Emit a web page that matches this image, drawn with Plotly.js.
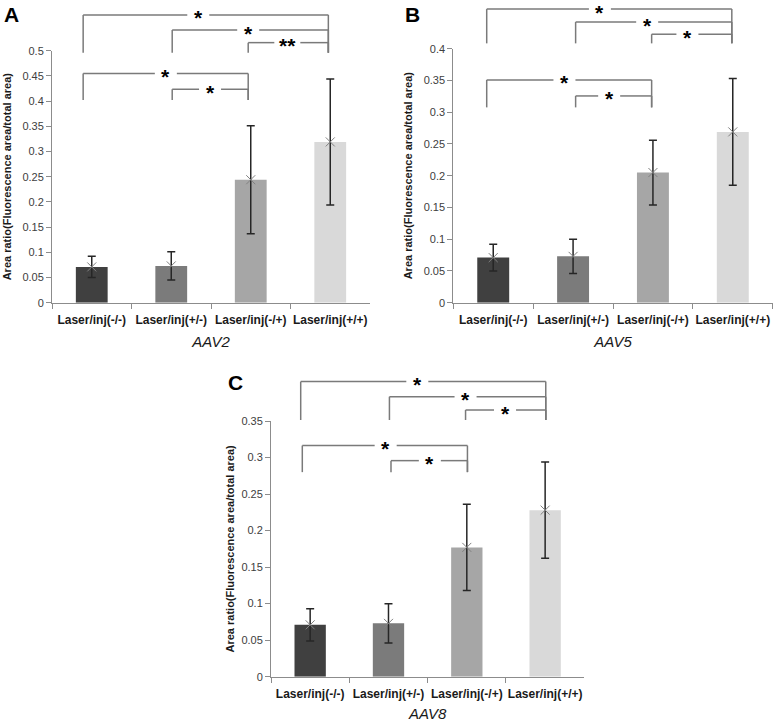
<!DOCTYPE html>
<html>
<head>
<meta charset="utf-8">
<script src="https://cdn.plot.ly/plotly-3.0.1.min.js"></script>
<style>html,body{margin:0;padding:0;background:#fff;}#chart{width:777px;height:722px;}</style>
</head>
<body>
<div id="chart"></div>
<script>
// ---- data ----
const categories = ["Laser/inj(-/-)", "Laser/inj(+/-)", "Laser/inj(-/+)", "Laser/inj(+/+)"];
const aav2Mean = [0.071, 0.073, 0.244, 0.319];
const aav2Err  = [0.021, 0.028, 0.107, 0.125];
const aav5Mean = [0.071, 0.073, 0.205, 0.269];
const aav5Err  = [0.021, 0.027, 0.051, 0.084];
const aav8Mean = [0.071, 0.073, 0.177, 0.228];
const aav8Err  = [0.022, 0.027, 0.059, 0.066];
const panelTitles = ["AAV2", "AAV5", "AAV8"];
const panelLetters = ["A", "B", "C"];
const yTitle = "Area ratio(Fluorescence area/total area)";
const sigA = ["*", "*", "**", "*", "*"];
const sigB = ["*", "*", "*", "*", "*"];
const sigC = ["*", "*", "*", "*", "*"];

// ---- styles / layout geometry ----
const W = 777, H = 722;
const FONT = 'Arial, "Liberation Sans", sans-serif';
const barColors = ["#404040", "#7b7b7b", "#a6a6a6", "#d9d9d9"];
const axisGray = "#8c8c8c";
const bracketGray = "#7a7a7a";

// plot boxes in pixels: [left, right, top, bottom]
const boxes = [
  [52, 370, 50.7, 302.7],
  [453.3, 772.7, 48.7, 302.7],
  [271, 584.3, 421, 676.7]
];
const yMax = [0.5, 0.4, 0.35];
const yTitleStandoff = [8, 8, 4];

// bracket geometry (domain fractions): [x0, x1, yLevel, yDrop, starX]
const bracketGeo = [
  [[0.098, 0.869, 1.142, 0.992, 0.460],
   [0.378, 0.869, 1.082, 0.992, 0.617],
   [0.617, 0.869, 1.032, 0.992, 0.740],
   [0.098, 0.617, 0.910, 0.804, 0.358],
   [0.378, 0.617, 0.847, 0.804, 0.497]],
  [[0.1046, 0.872, 1.156, 1.021, 0.459],
   [0.383, 0.872, 1.105, 1.021, 0.607],
   [0.621, 0.872, 1.057, 1.021, 0.733],
   [0.1046, 0.621, 0.877, 0.769, 0.348],
   [0.383, 0.621, 0.814, 0.769, 0.488]],
  [[0.0948, 0.877, 1.154, 1.004, 0.467],
   [0.378, 0.877, 1.095, 1.004, 0.621],
   [0.621, 0.877, 1.043, 1.004, 0.747],
   [0.0999, 0.627, 0.904, 0.800, 0.366],
   [0.383, 0.627, 0.845, 0.800, 0.507]]
];
const letterPos = [[2, 1], [403, 1], [226, 369]];

const means = [aav2Mean, aav5Mean, aav8Mean];
const errs = [aav2Err, aav5Err, aav8Err];
const sigs = [sigA, sigB, sigC];

const data = [];
const layout = {
  width: W, height: H, autosize: false,
  margin: {l: 0, r: 0, t: 0, b: 0},
  paper_bgcolor: "#fff", plot_bgcolor: "#fff",
  showlegend: false, bargap: 0.6,
  font: {family: FONT},
  shapes: [], annotations: []
};

for (let p = 0; p < 3; p++) {
  const sfx = p === 0 ? "" : String(p + 1);
  const xa = "x" + sfx, ya = "y" + sfx;
  const b = boxes[p];
  const pw = b[1] - b[0];
  data.push({
    type: "bar", x: categories, y: means[p], xaxis: xa, yaxis: ya,
    marker: {color: barColors, line: {width: 0}},
    error_y: {type: "data", array: errs[p], visible: true, color: "#262626", thickness: 1.5, width: 4},
    hoverinfo: "skip"
  });
  data.push({
    type: "scatter", mode: "markers", x: categories, y: means[p], xaxis: xa, yaxis: ya,
    marker: {symbol: "x-thin-open", size: 9, color: "#808080", line: {color: "#808080", width: 1}},
    hoverinfo: "skip", cliponaxis: false
  });
  layout["xaxis" + sfx] = {
    domain: [b[0] / W, b[1] / W], anchor: ya, type: "category", range: [-0.5, 3.5],
    showline: true, linecolor: axisGray, linewidth: 1, ticks: "outside", tickson: "boundaries",
    ticklen: 5, tickcolor: axisGray, showgrid: false, zeroline: false, tickangle: 0,
    ticklabelstandoff: 6,
    tickfont: {family: FONT, size: 12, color: "#1a1a1a", weight: "bold"},
    title: {text: panelTitles[p], font: {family: FONT, size: 15, style: "italic", color: "#1a1a1a"}, standoff: 10},
    fixedrange: true
  };
  layout["yaxis" + sfx] = {
    domain: [1 - b[3] / H, 1 - b[2] / H], anchor: xa, range: [0, yMax[p]], tick0: 0, dtick: 0.05,
    showline: true, linecolor: axisGray, linewidth: 1, ticks: "outside", ticklen: 5, tickcolor: axisGray,
    showgrid: false, zeroline: false,
    tickfont: {family: FONT, size: 11, color: "#404040"},
    title: {text: yTitle, font: {family: FONT, size: 11, weight: "bold", color: "#1a1a1a"}, standoff: yTitleStandoff[p]},
    fixedrange: true
  };
  const xr = xa + " domain", yr = ya + " domain";
  bracketGeo[p].forEach((g, i) => {
    const ln = {color: bracketGray, width: 1.5};
    const half = (sigs[p][i].length > 1 ? 13 : 11) / pw;
    layout.shapes.push({type: "line", xref: xr, yref: yr, x0: g[0], x1: g[4] - half, y0: g[2], y1: g[2], line: ln});
    layout.shapes.push({type: "line", xref: xr, yref: yr, x0: g[4] + half, x1: g[1], y0: g[2], y1: g[2], line: ln});
    layout.shapes.push({type: "line", xref: xr, yref: yr, x0: g[0], x1: g[0], y0: g[2], y1: g[3], line: ln});
    layout.shapes.push({type: "line", xref: xr, yref: yr, x0: g[1], x1: g[1], y0: g[2], y1: g[3], line: ln});
    layout.annotations.push({
      xref: xr, yref: yr, x: g[4], y: g[2], xanchor: "center", yanchor: "middle",
      text: sigs[p][i], showarrow: false, yshift: -3,
      font: {family: FONT, size: 21, weight: "bold", color: "#000"}
    });
  });
  layout.annotations.push({
    xref: "paper", yref: "paper", x: letterPos[p][0] / W, y: 1 - letterPos[p][1] / H,
    xanchor: "left", yanchor: "top", text: panelLetters[p], showarrow: false,
    font: {family: FONT, size: 21, weight: "bold", color: "#000"}
  });
}

Plotly.newPlot("chart", data, layout, {staticPlot: true, displayModeBar: false});
</script>
</body>
</html>
